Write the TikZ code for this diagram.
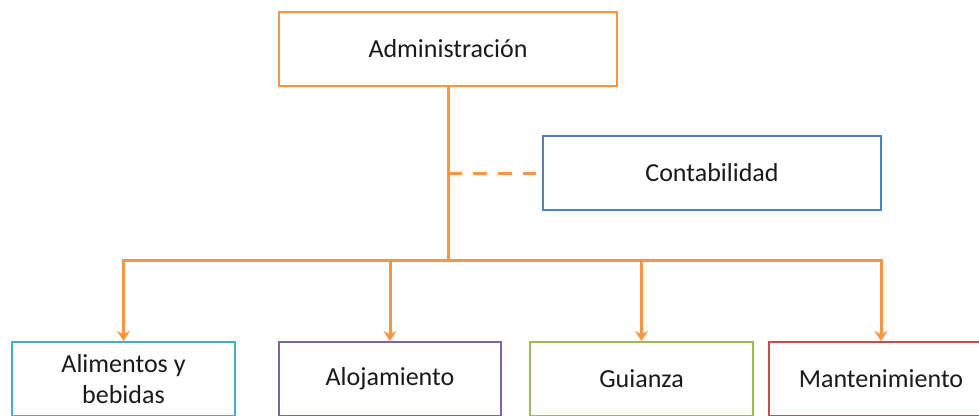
\documentclass[tikz,border=0pt]{standalone}
\usepackage{fontspec}
\setmainfont{Carlito}
\usetikzlibrary{arrows.meta}
\definecolor{corange}{HTML}{F79646}
\definecolor{cblue}{HTML}{4F81BD}
\definecolor{ccyan}{HTML}{4BACC6}
\definecolor{cpurple}{HTML}{8064A2}
\definecolor{cgreen}{HTML}{9BBB59}
\definecolor{cred}{HTML}{C0504D}
\definecolor{ctext}{HTML}{1A1A1A}
\tikzset{
  box/.style={draw, line width=2pt, fill=white, minimum width=#1, minimum height=74pt,
    inner sep=0pt, align=center, text=ctext,
    font=\fontsize{26pt}{31pt}\selectfont},
  box/.default=338pt,
  conn/.style={draw=corange, line width=3pt},
  arr/.style={conn, -{Stealth[length=10pt,width=13pt]}},
}
\begin{document}
\begin{tikzpicture}[x=1pt,y=-1pt]
\useasboundingbox (0,0) rectangle (979,415);
\clip (0,0) rectangle (979,415);
\node[box, draw=corange] (adm) at (448,49) {Administración};
\node[box, draw=cblue] (cont) at (712,173) {Contabilidad};
\node[box=223pt, draw=ccyan] (a1) at (123.5,379) {Alimentos y\\bebidas};
\node[box=222pt, draw=cpurple] (a2) at (390,379) {Alojamiento};
\node[box=223pt, draw=cgreen] (a3) at (641.5,379) {Guianza};
\node[box=224pt, draw=cred] (a4) at (881,379) {Mantenimiento};
\coordinate (j) at (448,260);
\coordinate (d) at (448,173);
\draw[conn] (adm.south) -- (j);
\draw[conn, dash pattern=on 14pt off 11pt, shorten >=6pt] (d) -- (cont.west);
\draw[arr] (j) -| (a1.north);
\draw[arr] (j) -| (a4.north);
\draw[arr] (j -| a2.north) -- (a2.north);
\draw[arr] (j -| a3.north) -- (a3.north);
\end{tikzpicture}
\end{document}
